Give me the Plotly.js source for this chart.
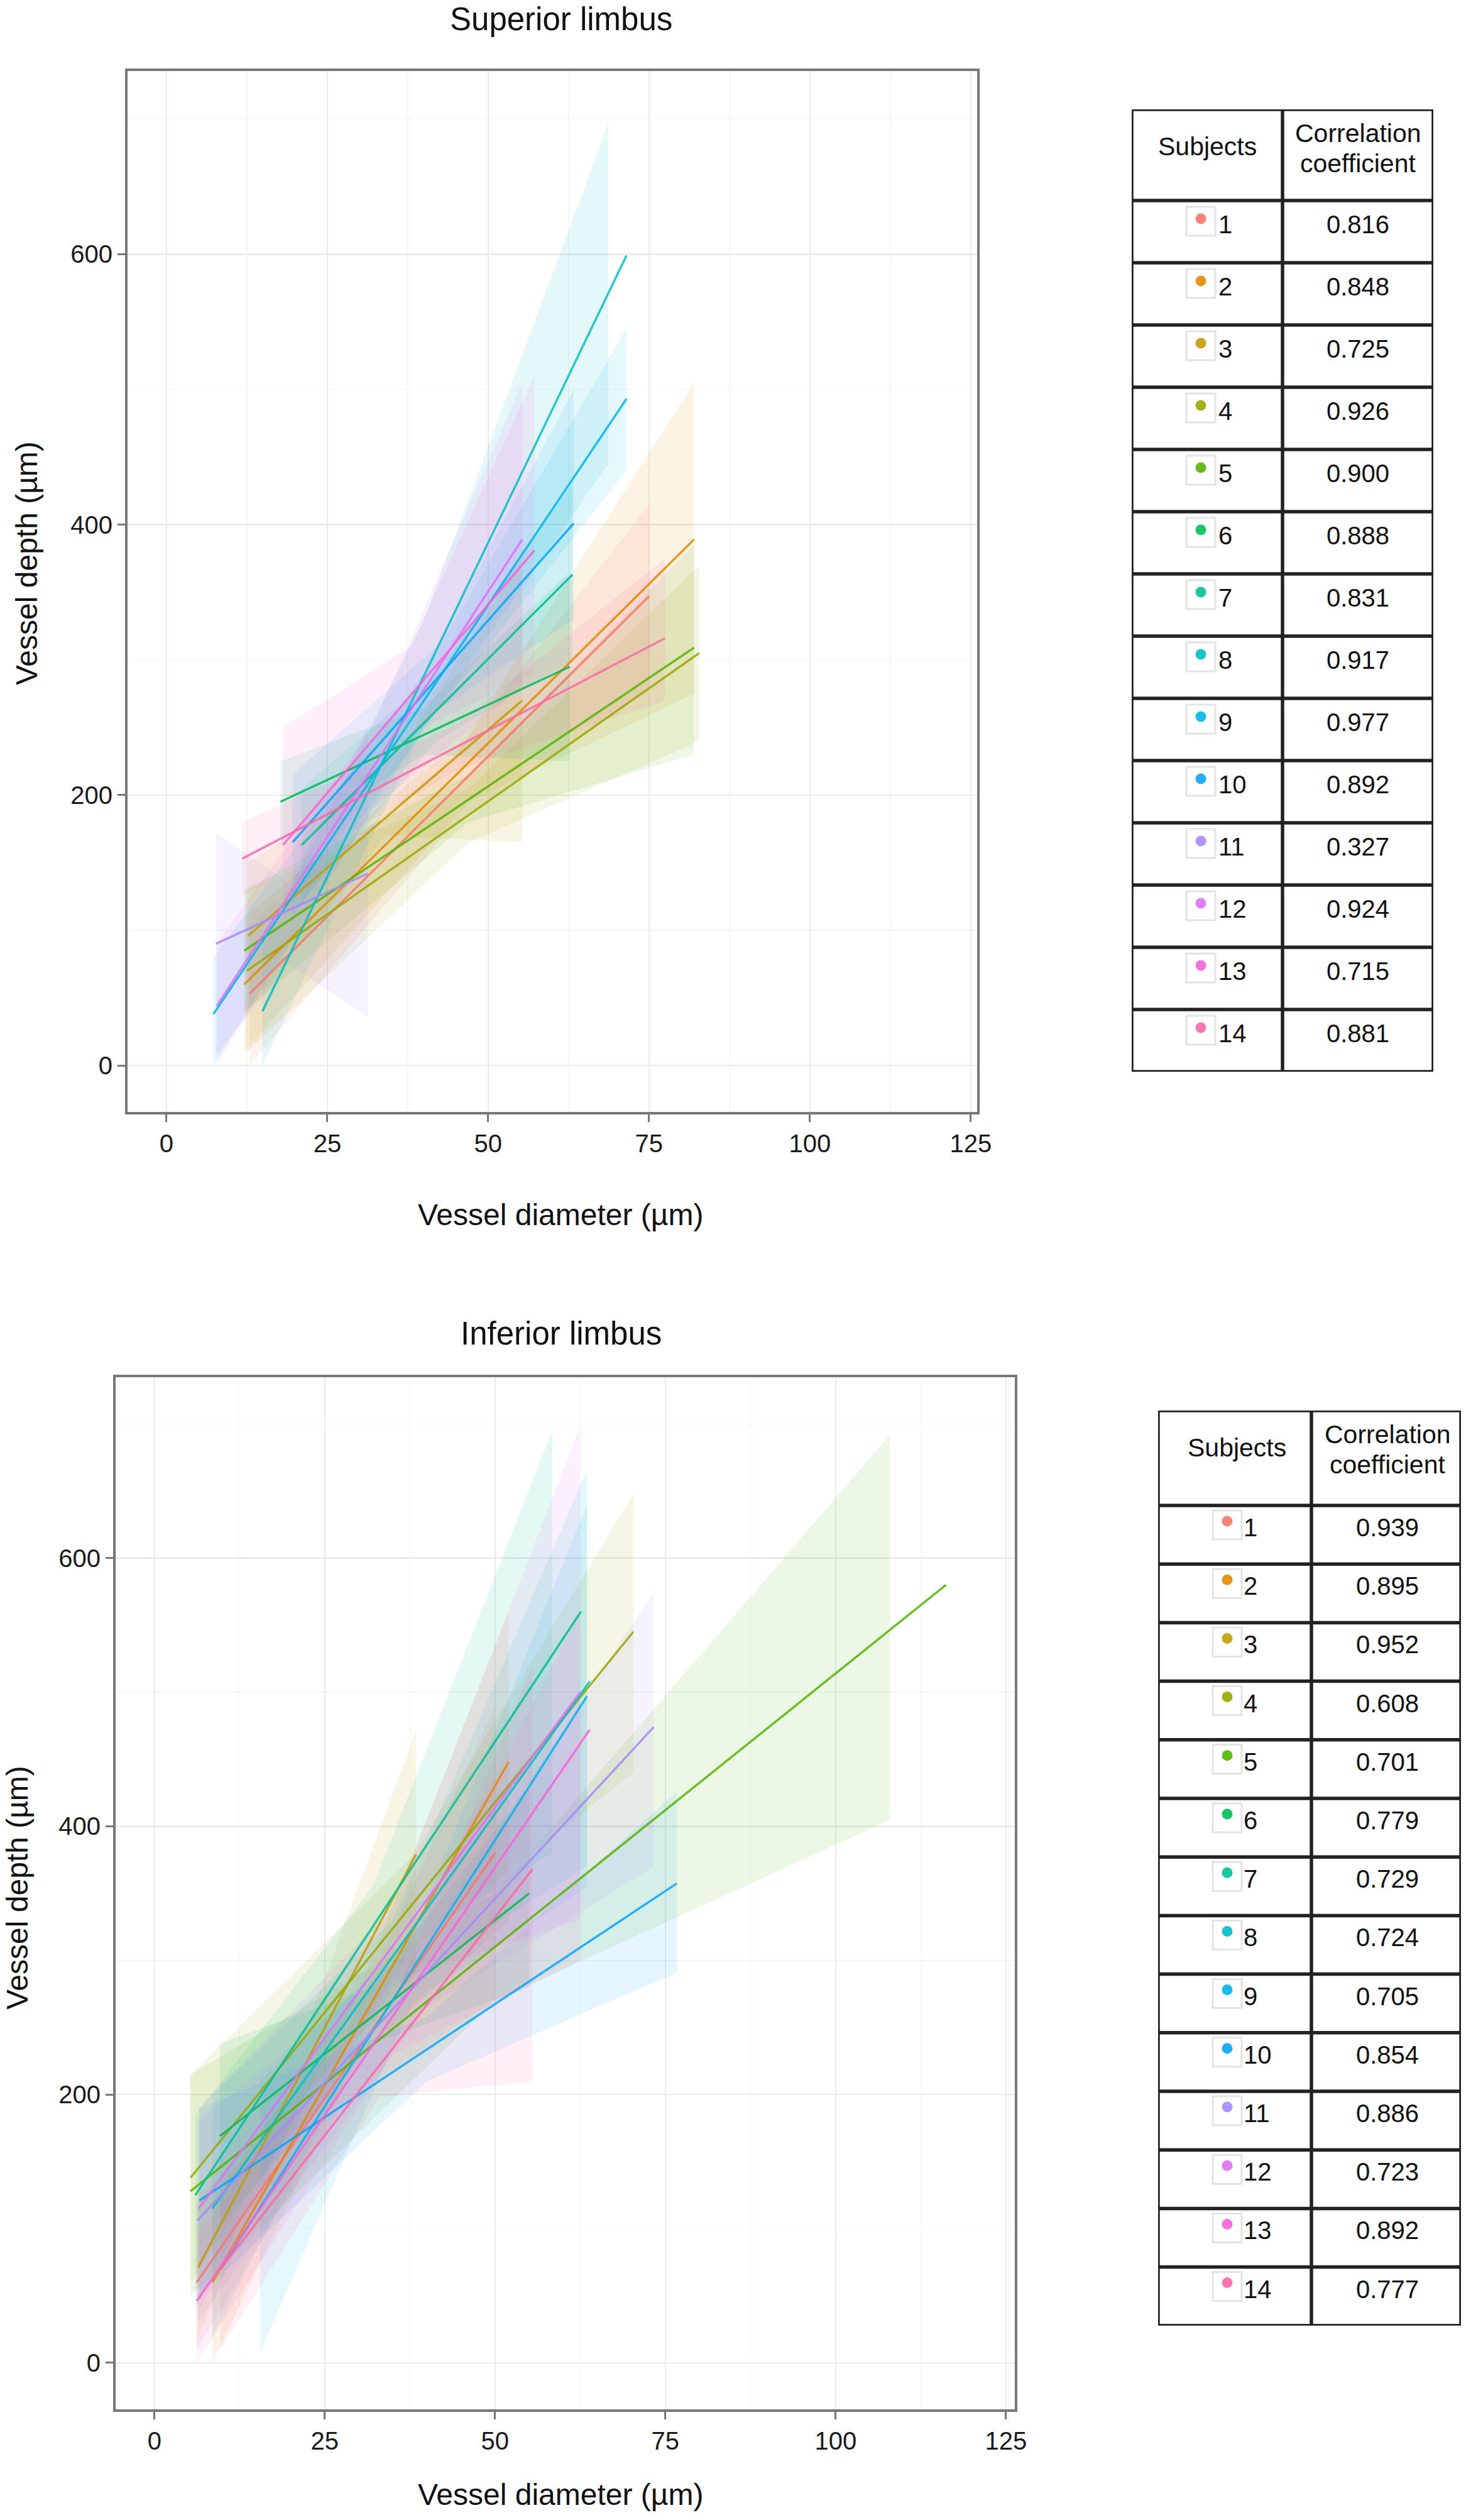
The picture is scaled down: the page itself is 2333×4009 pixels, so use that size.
<!DOCTYPE html>
<html>
<head>
<meta charset="utf-8">
<script src="https://cdn.plot.ly/plotly-3.0.1.min.js"></script>
<style>
  html, body { margin: 0; padding: 0; background: #fff; }
  #chart { width: 2333px; height: 4009px; }
</style>
</head>
<body>
<div id="chart"></div>
<script>
// ggplot hue palette, one colour per subject
const subjects = ['1','2','3','4','5','6','7','8','9','10','11','12','13','14']
const palette = ['#F8766D','#E38900','#C49A00','#99A800','#53B400','#00BC56','#00C094',
                 '#00BFC4','#00B6EB','#06A4FF','#A58AFF','#DF70F8','#FB61D7','#FF66A8']

// Superior limbus: fitted line ends and confidence band
const supLineX = [[12.9,75],[12.1,82],[12.7,55.3],[12.5,82.8],[12.1,82],[17.7,62.7],[21,63.1],
                  [14.9,71.5],[7.3,71.5],[19.6,63.3],[7.7,31.3],[7.8,55.3],[18.1,57.2],[11.8,77.5]]
const supLineY = [[53,347],[60,389],[96,270],[70,305],[85,309],[195,295],[163,363],
                  [40,599],[38,493],[165,401],[90,142],[44,389],[163,381],[153,316]]
const supBandX = [[12.9,44,75],[12.1,47,82],[12.7,34,55.3],[12.5,47,82.8],[12.1,47,82],[17.7,40,62.7],[21,42,63.1],
                  [14.9,40,68.7],[7.3,40,71.5],[19.6,42,63.3],[7.7,19,31.3],[7.8,32,55.3],[18.1,38,57.2],[11.8,45,77.5]]
const supBandLo = [[0,175,280],[10,195,275],[40,170,165],[10,165,240],[40,180,230],[165,230,225],[120,240,300],
                   [0,250,445],[0,250,440],[110,262,330],[8,75,36],[0,190,280],[110,245,290],[125,218,270]]
const supBandHi = [[105,225,415],[110,245,505],[150,215,375],[130,205,370],[130,215,385],[225,265,365],[205,290,430],
                   [90,330,697],[80,290,545],[215,310,500],[172,135,250],[90,250,505],[250,310,510],[180,252,375]]
const supCorr = ['0.816','0.848','0.725','0.926','0.900','0.888','0.831','0.917','0.977','0.892','0.327','0.924','0.715','0.881']

// Inferior limbus
const infLineX = [[6.2,50],[8.5,52],[6.4,38.4],[5.3,70.3],[5.3,116.2],[9.6,55],[6,62.6],
                  [8.5,63.9],[10,63.5],[6.6,76.7],[6.3,73.3],[6.5,62.5],[6.2,63.9],[9.7,55.5]]
const infLineY = [[60,380],[60,448],[71,379],[138,545],[128,580],[169,350],[125,560],
                  [115,508],[72,497],[121,357.5],[106,474],[115,500],[46,472],[70,368]]
const infBandX = [[6.2,28,50],[8.5,30,52],[6.4,22,38.4],[5.3,38,70.3],[5.3,50,108],[9.6,32,55],[6,32,58.4],
                  [8.5,35,63.5],[15.5,38,63.5],[6.6,40,76.7],[6.3,40,73.3],[6.5,35,62.5],[6.2,35,62.5],[9.7,33,55.5]]
const infBandLo = [[10,195,270],[0,228,330],[20,200,290],[60,310,440],[50,270,405],[100,238,280],[40,295,380],
                   [20,280,370],[8,270,355],[50,210,291],[30,265,370],[40,285,330],[0,230,300],[10,198,210]]
const infBandHi = [[120,245,490],[120,278,560],[125,245,472],[215,378,648],[215,350,692],[238,280,430],[185,355,695],
                   [200,330,666],[210,320,640],[190,258,426],[180,318,575],[190,340,698],[95,290,560],[135,245,520]]
const infCorr = ['0.939','0.895','0.952','0.608','0.701','0.779','0.729','0.724','0.705','0.854','0.886','0.723','0.892','0.777']

const W = 2333, H = 4009
const FONT = '"Liberation Sans", Arial, Helvetica, sans-serif'

function hexToRgba(hex, a) {
  const n = parseInt(hex.slice(1), 16)
  return `rgba(${(n >> 16) & 255},${(n >> 8) & 255},${n & 255},${a})`
}
const xdom = (a, b) => [a / W, b / W]
const ydom = (top, bottom) => [1 - bottom / H, 1 - top / H]

function smoothTraces(xa, ya, lineX, lineY, bandX, bandLo, bandHi) {
  let bands = [], lines = []
  subjects.forEach((s, i) => {
    let bx = bandX[i]
    bands.push({
      x: bx.concat(bx.slice().reverse()),
      y: bandHi[i].concat(bandLo[i].slice().reverse()),
      xaxis: xa, yaxis: ya,
      type: 'scatter', mode: 'lines',
      fill: 'toself',
      fillcolor: hexToRgba(palette[i], 0.1),
      line: { width: 0 },
      hoverinfo: 'skip',
      showlegend: false,
    })
    lines.push({
      x: lineX[i], y: lineY[i],
      xaxis: xa, yaxis: ya,
      type: 'scatter', mode: 'lines',
      name: s,
      opacity: 0.85,
      line: { color: palette[i], width: 3.5 },
      showlegend: false,
    })
  })
  return bands.concat(lines)
}

// table geometry in pixels, relative to the table's top-left corner
const tables = [
  { xa: 'x3', ya: 'y3', left: 1801, right: 2281, top: 174, header: 145, rowH: 99,
    divider: 240, keyX: 110, numX: 138, valX: 360, subjX: 120, subjY: 59, corrY: [38, 86],
    dotDy: 29, boxDy: 33, textDy: 42, values: supCorr },
  { xa: 'x4', ya: 'y4', left: 1843, right: 2325, top: 2244, header: 151, rowH: 93.2,
    divider: 244, keyX: 110, numX: 136, valX: 365, subjX: 125, subjY: 59, corrY: [38, 86],
    dotDy: 25, boxDy: 31, textDy: 39, values: infCorr },
]

let data = []
  .concat(smoothTraces('x', 'y', supLineX, supLineY, supBandX, supBandLo, supBandHi))
  .concat(smoothTraces('x2', 'y2', infLineX, infLineY, infBandX, infBandLo, infBandHi))

let shapes = []
let annotations = []

tables.forEach(t => {
  const width = t.right - t.left
  const height = t.header + subjects.length * t.rowH
  const rowTops = subjects.map((s, i) => t.header + i * t.rowH)
  const border = { color: '#222', width: 5.5 }

  shapes.push({ type: 'rect', xref: t.xa, yref: t.ya, x0: 0, x1: width, y0: 0, y1: height, line: border })
  shapes.push({ type: 'line', xref: t.xa, yref: t.ya, x0: t.divider, x1: t.divider, y0: 0, y1: height, line: border })
  rowTops.forEach(y => {
    shapes.push({ type: 'line', xref: t.xa, yref: t.ya, x0: 0, x1: width, y0: y, y1: y, line: border })
  })

  // legend key box + dot
  data.push({
    x: rowTops.map(() => t.keyX), y: rowTops.map(y => y + t.boxDy),
    xaxis: t.xa, yaxis: t.ya, type: 'scatter', mode: 'markers',
    marker: { symbol: 'square-open', size: 46, color: '#e4e4e4', line: { width: 3 } },
    hoverinfo: 'skip', showlegend: false,
  })
  data.push({
    x: rowTops.map(() => t.keyX), y: rowTops.map(y => y + t.dotDy),
    xaxis: t.xa, yaxis: t.ya, type: 'scatter', mode: 'markers',
    marker: { size: 17, color: palette, opacity: 0.9 },
    hoverinfo: 'skip', showlegend: false,
  })
  data.push({
    x: rowTops.map(() => t.numX), y: rowTops.map(y => y + t.textDy),
    text: subjects, xaxis: t.xa, yaxis: t.ya, type: 'scatter', mode: 'text',
    textposition: 'middle right', textfont: { family: FONT, size: 40, color: '#111' },
    hoverinfo: 'skip', showlegend: false,
  })
  data.push({
    x: rowTops.map(() => t.valX), y: rowTops.map(y => y + t.textDy),
    text: t.values, xaxis: t.xa, yaxis: t.ya, type: 'scatter', mode: 'text',
    textposition: 'middle center', textfont: { family: FONT, size: 40, color: '#111' },
    hoverinfo: 'skip', showlegend: false,
  })

  const hdr = { xref: t.xa, yref: t.ya, showarrow: false, font: { family: FONT, size: 41, color: '#111' },
                xanchor: 'center', yanchor: 'middle' }
  annotations.push({ ...hdr, x: t.subjX, y: t.subjY, text: 'Subjects' })
  annotations.push({ ...hdr, x: t.valX, y: t.corrY[0], text: 'Correlation' })
  annotations.push({ ...hdr, x: t.valX, y: t.corrY[1], text: 'coefficient' })
})

// plot titles and axis titles
const txt = (x, y, text, size, angle) => ({
  xref: 'paper', yref: 'paper', x: x / W, y: 1 - y / H, text: text,
  showarrow: false, xanchor: 'center', yanchor: 'middle', textangle: angle || 0,
  font: { family: FONT, size: size, color: '#111' },
})
annotations.push(txt(893, 30, 'Superior limbus', 51))
annotations.push(txt(892, 1932, 'Vessel diameter (µm)', 48))
annotations.push(txt(42, 896, 'Vessel depth (µm)', 48, -90))
annotations.push(txt(893, 2121, 'Inferior limbus', 51))
annotations.push(txt(892, 3968, 'Vessel diameter (µm)', 48))
annotations.push(txt(27, 3003, 'Vessel depth (µm)', 48, -90))

const xTicks = [0, 25, 50, 75, 100, 125]
const yTicks = [0, 200, 400, 600]

function plotAxis(domain, range, ticks, minorStep, anchor) {
  return {
    domain: domain, range: range, anchor: anchor,
    tickvals: ticks, ticktext: ticks.map(String),
    showgrid: true, gridcolor: '#ebebeb', gridwidth: 2.5,
    minor: { dtick: minorStep, tick0: 0, showgrid: true, gridcolor: '#f5f5f5', gridwidth: 1.5, ticks: '' },
    zeroline: false,
    showline: true, mirror: true, linecolor: '#777', linewidth: 4,
    ticks: 'outside', ticklen: 12, tickwidth: 3, tickcolor: '#777',
    tickfont: { family: FONT, size: 40, color: '#1a1a1a' },
    ticklabelstandoff: 0,
    fixedrange: true,
  }
}
const hidden = (domain, range, anchor) => ({
  domain: domain, range: range, anchor: anchor, visible: false, fixedrange: true,
})

let layout = {
  width: W, height: H,
  margin: { l: 0, r: 0, t: 0, b: 0 },
  paper_bgcolor: '#fff', plot_bgcolor: '#fff',
  showlegend: false,
  font: { family: FONT },
  xaxis: plotAxis(xdom(203, 1555), [-6.05, 126.0], xTicks, 12.5, 'y'),
  yaxis: plotAxis(ydom(113, 1769), [-34.4, 735.5], yTicks, 100, 'x'),
  xaxis2: plotAxis(xdom(184, 1615), [-5.7, 126.3], xTicks, 12.5, 'y2'),
  yaxis2: plotAxis(ydom(2191, 3833), [-34.7, 734.8], yTicks, 100, 'x2'),
  xaxis3: hidden(xdom(tables[0].left, tables[0].right), [0, tables[0].right - tables[0].left], 'y3'),
  yaxis3: hidden(ydom(tables[0].top, tables[0].top + tables[0].header + 14 * tables[0].rowH),
                 [tables[0].header + 14 * tables[0].rowH, 0], 'x3'),
  xaxis4: hidden(xdom(tables[1].left, tables[1].right), [0, tables[1].right - tables[1].left], 'y4'),
  yaxis4: hidden(ydom(tables[1].top, tables[1].top + tables[1].header + 14 * tables[1].rowH),
                 [tables[1].header + 14 * tables[1].rowH, 0], 'x4'),
  shapes: shapes,
  annotations: annotations,
}

Plotly.newPlot('chart', data, layout, { staticPlot: true, displayModeBar: false })
</script>
</body>
</html>
